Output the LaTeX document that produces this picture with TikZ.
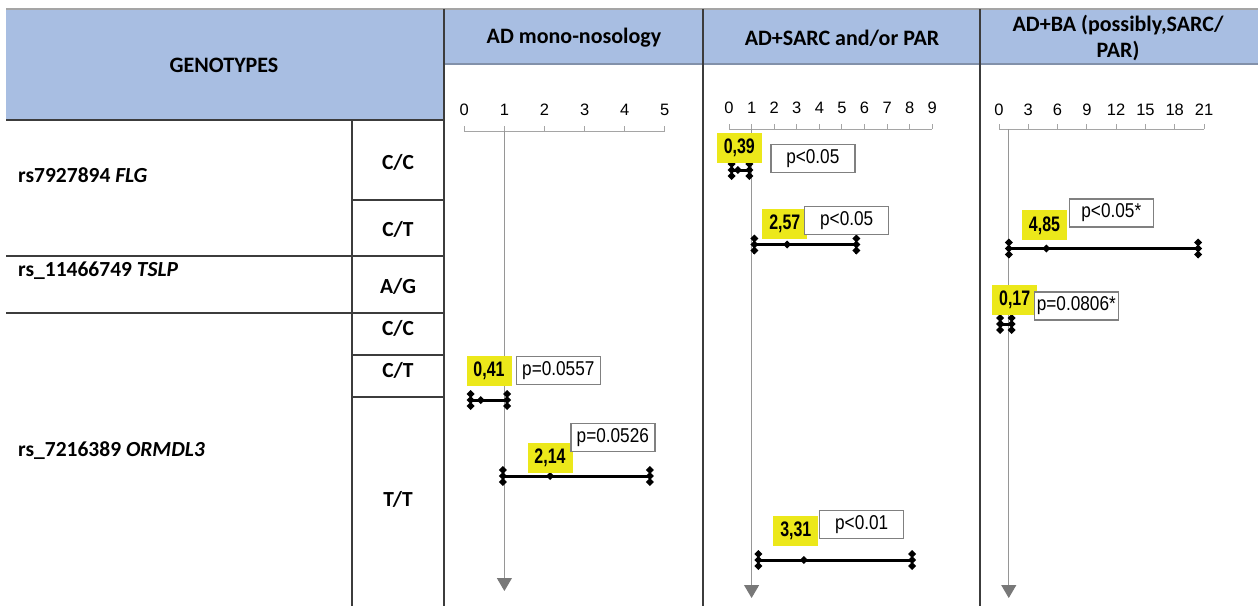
\documentclass[tikz,border=0pt]{standalone}
\usepackage{fontspec}
\setmainfont{Carlito}
\newfontfamily\arialf{Liberation Sans}
\newfontfamily\arialn{Liberation Sans}[FakeStretch=0.86]
\newfontfamily\arialnb{Liberation Sans}[FakeStretch=0.76]
\usetikzlibrary{arrows.meta}
\definecolor{hdrblue}{RGB}{168,190,226}
\definecolor{ylw}{RGB}{236,232,26}
\definecolor{gridc}{RGB}{60,60,60}
\definecolor{axc}{RGB}{165,165,165}
\definecolor{refc}{RGB}{150,150,150}
\definecolor{arrc}{RGB}{120,120,120}
\definecolor{pbc}{RGB}{128,128,128}
\definecolor{hlc}{RGB}{130,145,170}
\tikzset{
  gl/.style={draw=gridc, line width=1.2pt},
  gtxt/.style={font=\bfseries\fontsize{21.5}{23}\selectfont, inner sep=0},
  htxt/.style={font=\bfseries\fontsize{22}{24}\selectfont, inner sep=0},
  snp/.style={gtxt, anchor=west},
  ticklbl/.style={font=\arialf\fontsize{16.5}{16.5}\selectfont, inner sep=0},
  ylab/.style={fill=ylw, minimum width=45pt, minimum height=30pt, inner sep=0,
    font=\arialnb\bfseries\fontsize{21}{21}\selectfont},
  pbox/.style={draw=pbc, line width=1.5pt, fill=white, minimum width=84pt,
    minimum height=28pt, inner sep=0, font=\arialn\fontsize{20}{20}\selectfont},
  axisln/.style={draw=axc, line width=1pt},
  refl/.style={draw=refc, line width=1pt,
    -{Triangle[width=15pt,length=13pt,fill=arrc,color=arrc]}},
  ebar/.style={line width=3pt, black},
  ebcap/.pic={
    \draw[line width=2pt] (0,-9) -- (0,9);
    \foreach \d in {-6,0,6} {\fill[black] (-4,\d) -- (0,\d+4) -- (4,\d) -- (0,\d-4) -- cycle;}
  },
  ebmid/.pic={\fill[black] (-4,0) -- (0,-4) -- (4,0) -- (0,4) -- cycle;},
}
\begin{document}
\begin{tikzpicture}[x=1pt,y=-1pt]
\useasboundingbox (0,0) rectangle (1258,606);
% header fills
\fill[hdrblue] (6,9) rectangle (444,120);
\fill[hdrblue] (444,9) rectangle (1258,64);
% table lines
\draw[draw=axc, line width=1.5pt] (6,9) -- (1258,9);
\draw[draw=hlc, line width=1.2pt] (444,64) -- (1258,64);
\draw[gl] (6,120) -- (444,120);
\draw[gl] (6,256) -- (444,256);
\draw[gl] (6,313) -- (444,313);
\draw[gl] (352,200) -- (444,200);
\draw[gl] (352,355) -- (444,355);
\draw[gl] (352,397) -- (444,397);
\draw[gl] (352,120) -- (352,606);
\draw[gl] (444,9) -- (444,606);
\draw[gl] (703,9) -- (703,606);
\draw[gl] (980,9) -- (980,606);
% header texts
\node[htxt] (hgen) at (224,65) {GENOTYPES};
\node[htxt] (hmono) at (574,38) {AD mono-nosology};
\node[htxt] (hsarc) at (842,38) {AD+SARC and/or PAR};
\node[htxt] (hba1) at (1118,25) {AD+BA (possibly,SARC/};
\node[htxt] (hba2) at (1118,51) {PAR)};
% row texts
\node[snp] (s1) at (18,175) {rs7927894 \textit{FLG}};
\node[snp] (s2) at (18,271) {rs\_11466749 \textit{TSLP}};
\node[snp] (s3) at (18,451) {rs\_7216389 \textit{ORMDL3}};
\node[gtxt] (g1) at (398,162) {C/C};
\node[gtxt] (g2) at (398,229) {C/T};
\node[gtxt] (g3) at (398,286) {A/G};
\node[gtxt] (g4) at (398,328) {C/C};
\node[gtxt] (g5) at (398,370) {C/T};
\node[gtxt] (g6) at (398,499) {T/T};
% axis parameters
\def\xa{464.3}\def\ua{40.1}
\def\xb{729}\def\ub{22.59}
\def\xc{999}\def\uc{9.762}
% axis 1
\draw[axisln] (\xa,131) -- ({\xa+5*\ua},131);
\foreach \v in {0,...,5} {
  \draw[axisln] ({\xa+\v*\ua},131) -- ({\xa+\v*\ua},126);
  \node[ticklbl] (ta\v) at ({\xa+\v*\ua},110) {\v};
}
% axis 2
\draw[axisln] (\xb,129) -- ({\xb+9*\ub},129);
\foreach \v in {0,...,9} {
  \draw[axisln] ({\xb+\v*\ub},129) -- ({\xb+\v*\ub},124);
  \node[ticklbl] (tb\v) at ({\xb+\v*\ub},108) {\v};
}
% axis 3
\draw[axisln] (\xc,129) -- ({\xc+21*\uc},129);
\foreach \v in {0,3,...,21} {
  \draw[axisln] ({\xc+\v*\uc},129) -- ({\xc+\v*\uc},124);
  \node[ticklbl] (tc\v) at ({\xc+\v*\uc},110) {\v};
}
% reference lines
\coordinate (r1t) at ({\xa+\ua},131);
\coordinate (r1b) at ({\xa+\ua},591);
\coordinate (r2t) at ({\xb+\ub},129);
\coordinate (r2b) at ({\xb+\ub},598);
\coordinate (r3t) at ({\xc+\uc},129);
\coordinate (r3b) at ({\xc+\uc},598);
\draw[refl] (r1t) -- (r1b);
\draw[refl] (r2t) -- (r2b);
\draw[refl] (r3t) -- (r3b);
% error bars: AD mono
\coordinate (a1l) at ({\xa+0.16*\ua},400);
\coordinate (a1m) at ({\xa+0.41*\ua},400);
\coordinate (a1r) at ({\xa+1.07*\ua},400);
\coordinate (a2l) at ({\xa+0.96*\ua},476);
\coordinate (a2m) at ({\xa+2.14*\ua},476);
\coordinate (a2r) at ({\xa+4.63*\ua},476);
% AD+SARC
\coordinate (b1l) at ({\xb+0.12*\ub},170);
\coordinate (b1m) at ({\xb+0.39*\ub},170);
\coordinate (b1r) at ({\xb+0.90*\ub},170);
\coordinate (b2l) at ({\xb+1.12*\ub},244.5);
\coordinate (b2m) at ({\xb+2.57*\ub},244.5);
\coordinate (b2r) at ({\xb+5.64*\ub},244.5);
\coordinate (b3l) at ({\xb+1.30*\ub},560);
\coordinate (b3m) at ({\xb+3.31*\ub},560);
\coordinate (b3r) at ({\xb+8.11*\ub},560);
% AD+BA
\coordinate (c1l) at ({\xc+1.0*\uc},248.5);
\coordinate (c1m) at ({\xc+4.85*\uc},248.5);
\coordinate (c1r) at ({\xc+20.4*\uc},248.5);
\coordinate (c2l) at ({\xc+0.12*\uc},324);
\coordinate (c2m) at ({\xc+0.17*\uc},324);
\coordinate (c2r) at ({\xc+1.3*\uc},324);
\foreach \b in {a1,a2,b1,b2,b3,c1,c2} {
  \draw[ebar] (\b l) -- (\b r);
  \pic at (\b l) {ebcap};
  \pic at (\b r) {ebcap};
  \pic at (\b m) {ebmid};
}
% value labels
\node[ylab] (ya1) at (489,371) {0,41};
\node[ylab] (ya2) at (550,457.5) {2,14};
\node[ylab] (yb1) at (739.3,148) {0,39};
\node[ylab] (yb2) at (784.8,223.5) {2,57};
\node[ylab] (yb3) at (795.8,530.5) {3,31};
\node[ylab] (yc1) at (1044.5,225.3) {4,85};
\node[ylab] (yc2) at (1014.7,300) {0,17};
% p-value boxes
\node[pbox] (pa1) at (558.3,370.3) {p=0.0557};
\node[pbox] (pa2) at (612.8,437.5) {p=0.0526};
\node[pbox] (pb1) at (812.8,158.7) {p<0.05};
\node[pbox] (pb2) at (846.7,220.7) {p<0.05};
\node[pbox] (pb3) at (861.7,524.3) {p<0.01};
\node[pbox] (pc1) at (1111.3,213) {p<0.05*};
\node[pbox] (pc2) at (1076.3,306) {p=0.0806*};
\end{tikzpicture}
\end{document}
